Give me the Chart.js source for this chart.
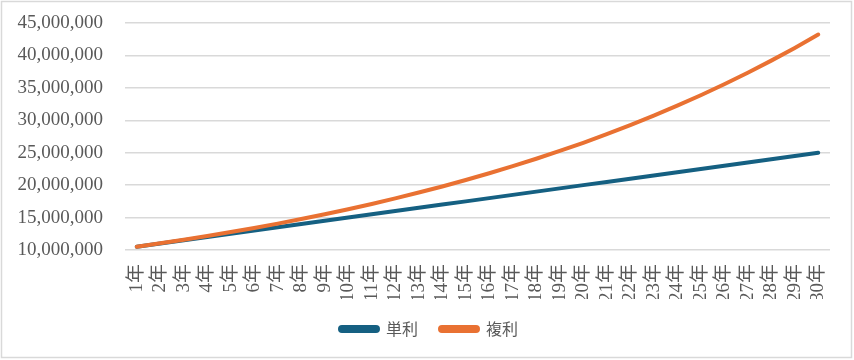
<!DOCTYPE html>
<html><head><meta charset="utf-8">
<script src="https://cdn.jsdelivr.net/npm/chart.js@4"></script>
<style>html,body{margin:0;padding:0;background:#fff}#w{position:relative;width:854px;height:360px}</style>
</head><body><div id="w"><canvas id="c" width="854" height="360"></canvas></div>
<script>
const categories = ["1年","2年","3年","4年","5年","6年","7年","8年","9年","10年","11年","12年","13年","14年","15年","16年","17年","18年","19年","20年","21年","22年","23年","24年","25年","26年","27年","28年","29年","30年"];
const simpleValues = [10500000,11000000,11500000,12000000,12500000,13000000,13500000,14000000,14500000,15000000,15500000,16000000,16500000,17000000,17500000,18000000,18500000,19000000,19500000,20000000,20500000,21000000,21500000,22000000,22500000,23000000,23500000,24000000,24500000,25000000];
const compoundValues = [10500000,11025000,11576250,12155063,12762816,13400956,14071004,14774554,15513282,16288946,17103394,17958563,18856491,19799316,20789282,21828746,22920183,24066192,25269502,26532977,27859626,29252607,30715238,32250999,33863549,35556727,37334563,39201291,41161356,43219424];
const yTicks = [10000000,15000000,20000000,25000000,30000000,35000000,40000000,45000000];
const seriesNames = ["単利","複利"];

const borderPlugin = {
  id: 'frame',
  beforeDraw(chart) {
    const ctx = chart.ctx;
    ctx.save();
    ctx.fillStyle = '#fff';
    ctx.fillRect(0,0,chart.width,chart.height);
    ctx.strokeStyle = '#d9d9d9';
    ctx.lineWidth = 1.5;
    ctx.strokeRect(1.5,1.5,chart.width-4,chart.height-4);
    ctx.restore();
  },
  afterLayout(chart) {
    if (chart.legend) { chart.legend.left += 14; chart.legend.right += 14; }
  }
};

new Chart(document.getElementById('c'), {
  type: 'line',
  data: {
    labels: categories,
    datasets: [
      {label: seriesNames[0], data: simpleValues, borderColor: '#156082', backgroundColor: '#156082', borderWidth: 4, pointRadius: 0, tension: 0, order: 1, borderCapStyle: 'round', borderJoinStyle: 'round'},
      {label: seriesNames[1], data: compoundValues, borderColor: '#E97132', backgroundColor: '#E97132', borderWidth: 4, pointRadius: 0, tension: 0, order: 0, borderCapStyle: 'round', borderJoinStyle: 'round'}
    ]
  },
  options: {
    responsive: false,
    animation: false,
    devicePixelRatio: 1,
    layout: {padding: {left: 0, right: 24, top: 23, bottom: 13}},
    plugins: {
      tooltip: {enabled: false},
      legend: {
        position: 'bottom',
        labels: {
          font: {family: "'Noto Sans CJK JP','Noto Sans'", size: 16},
          color: '#595959',
          boxWidth: 38,
          boxHeight: 4,
          padding: 22,
          useBorderRadius: true,
          borderRadius: 2,
          sort: (a, b) => a.datasetIndex - b.datasetIndex
        }
      }
    },
    scales: {
      x: {
        offset: true,
        grid: {display: false, drawTicks: false},
        border: {display: false},
        ticks: {
          color: '#595959',
          font: {family: "'Liberation Serif','Noto Sans CJK JP'", size: 19},
          minRotation: 90, maxRotation: 90,
          autoSkip: false,
          padding: 14
        },
        afterFit(scale) { scale.height = 49; scale.paddingLeft = 0; scale.paddingRight = 0; }
      },
      y: {
        min: 10000000, max: 45000000,
        afterBuildTicks(scale) { scale.ticks = yTicks.map(v => ({value: v})); },
        grid: {color: '#d9d9d9', lineWidth: 1.5, drawTicks: false},
        border: {display: false},
        ticks: {
          color: '#595959',
          font: {family: "'Liberation Serif'", size: 19},
          padding: 22,
          callback: v => v.toLocaleString('en-US')
        },
        afterFit(scale) { scale.width = 125; scale.paddingTop = 0; scale.paddingBottom = 0; }
      }
    }
  },
  plugins: [borderPlugin]
});
</script></body></html>
